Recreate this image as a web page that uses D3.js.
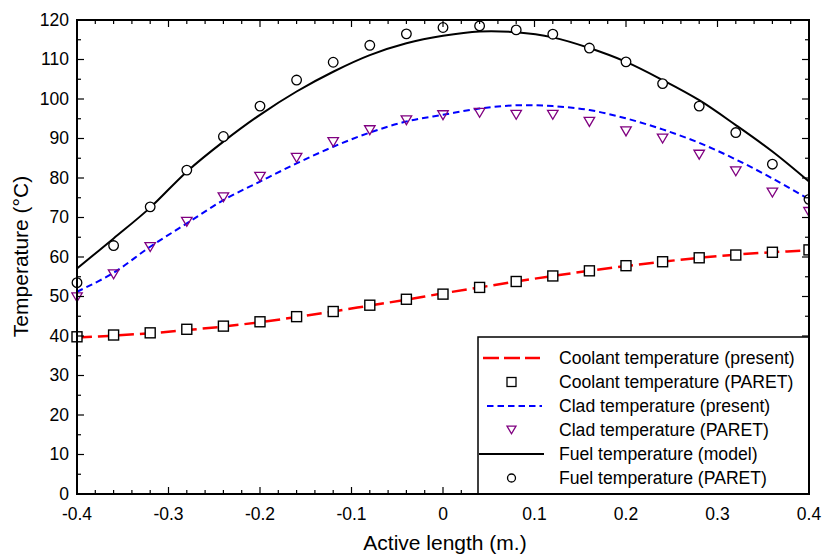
<!DOCTYPE html>
<html><head><meta charset="utf-8">
<script src="https://cdn.jsdelivr.net/npm/d3@7"></script>
<style>body{margin:0;background:#fff}svg{display:block;font-family:"Liberation Sans",Arial,sans-serif}</style>
</head><body><svg id="c" width="822" height="555"></svg>
<script>
const xTicks = [-0.4,-0.3,-0.2,-0.1,0,0.1,0.2,0.3,0.4];
const xTickLabels = ["-0.4","-0.3","-0.2","-0.1","0","0.1","0.2","0.3","0.4"];
const yTicks = [0,10,20,30,40,50,60,70,80,90,100,110,120];

const paretX = [-0.4,-0.36,-0.32,-0.28,-0.24,-0.2,-0.16,-0.12,-0.08,-0.04,0,0.04,0.08,0.12,0.16,0.2,0.24,0.28,0.32,0.36,0.4];
const coolantParet = [39.8,40.25,40.8,41.7,42.5,43.6,44.9,46.2,47.8,49.3,50.6,52.3,53.8,55.2,56.5,57.8,58.8,59.8,60.5,61.2,61.8];
const cladParet = [49.8,55.6,62.5,68.9,75.1,80.3,85.1,89.1,92.1,94.6,95.9,96.5,96.0,96.0,94.2,91.8,90.0,85.9,81.7,76.3,71.4];
const fuelParet = [53.5,62.9,72.7,82.0,90.5,98.2,104.8,109.3,113.6,116.5,118.1,118.5,117.5,116.4,112.9,109.4,103.9,98.2,91.5,83.5,74.6];

const lineX = [-0.4,-0.36,-0.32,-0.28,-0.24,-0.2,-0.16,-0.12,-0.08,-0.04,0,0.04,0.08,0.12,0.16,0.2,0.24,0.28,0.32,0.36,0.4];
const coolantPresent = [39.6,40.1,40.7,41.5,42.4,43.5,44.8,46.2,47.7,49.2,50.8,52.3,53.8,55.2,56.5,57.7,58.8,59.8,60.6,61.2,61.7];
const cladPresent = [51.2,56.0,62.6,68.5,74.4,79.1,83.7,87.9,91.5,94.3,96.0,97.6,98.4,98.2,97.2,95.1,92.3,88.9,84.7,79.9,74.6];
const fuelModel = [57.1,64.7,72.5,81.6,89.2,96.0,101.9,106.9,111.1,114.1,116.0,117.1,116.9,115.6,112.9,109.4,104.8,99.7,93.4,86.7,79.1];

const legendLabels = ["Coolant temperature (present)","Coolant temperature (PARET)","Clad temperature (present)","Clad temperature (PARET)","Fuel temperature (model)","Fuel temperature (PARET)"];

const svg = d3.select("#c");
const L=77,R=809,T=20,B=494;
const x = d3.scaleLinear().domain([-0.4,0.4]).range([L,R]);
const y = d3.scaleLinear().domain([0,120]).range([B,T]);

const g = svg.append("g");
svg.append("defs").append("clipPath").attr("id","pc").append("rect")
  .attr("x",L-6).attr("y",T).attr("width",R-L+6).attr("height",B-T);

// lines
const line = d3.line().curve(d3.curveCatmullRom.alpha(0.5)).x((d,i)=>x(lineX[i])).y(d=>y(d));
const lg = g.append("g").attr("clip-path","url(#pc)");
lg.append("path").attr("d",line(coolantPresent)).attr("fill","none").attr("stroke","#ff0000").attr("stroke-width",2.5).attr("stroke-dasharray","15,6");
lg.append("path").attr("d",line(cladPresent)).attr("fill","none").attr("stroke","#0000ff").attr("stroke-width",2).attr("stroke-dasharray","6.5,4");
lg.append("path").attr("d",line(fuelModel)).attr("fill","none").attr("stroke","#000").attr("stroke-width",2);

// markers
const mg = g.append("g").attr("clip-path","url(#pc)");
const sq = 10;
paretX.forEach((xv,i)=>{
  mg.append("rect").attr("x",x(xv)-sq/2).attr("y",y(coolantParet[i])-sq/2).attr("width",sq).attr("height",sq)
    .attr("fill","#fff").attr("stroke","#000").attr("stroke-width",1.4);
});
const tri = (cx,cy,w)=>{const h=w*0.85;return `M${cx-w/2},${cy-h/2}L${cx+w/2},${cy-h/2}L${cx},${cy+h/2}Z`;};
paretX.forEach((xv,i)=>{
  mg.append("path").attr("d",tri(x(xv),y(cladParet[i]),10.5)).attr("fill","none").attr("stroke","#800080").attr("stroke-width",1.3);
});
paretX.forEach((xv,i)=>{
  mg.append("circle").attr("cx",x(xv)).attr("cy",y(fuelParet[i])).attr("r",4.8).attr("fill","#fff").attr("stroke","#000").attr("stroke-width",1.3);
});

// axes ticks (inward)
const ax = g.append("g").attr("stroke","#000");
const xMinor = d3.range(-0.4,0.4001,0.02);
xMinor.forEach(v=>{
  const major = Math.abs(Math.round(v*10)-v*10)<1e-6;
  const len = major?7:4;
  ax.append("line").attr("x1",x(v)).attr("x2",x(v)).attr("y1",B).attr("y2",B-len).attr("stroke-width",1.2);
  ax.append("line").attr("x1",x(v)).attr("x2",x(v)).attr("y1",T).attr("y2",T+len).attr("stroke-width",1.2);
});
d3.range(0,120.001,5).forEach(v=>{
  const major = v%10===0;
  const len = major?7:4;
  ax.append("line").attr("y1",y(v)).attr("y2",y(v)).attr("x1",L).attr("x2",L+len).attr("stroke-width",1.2);
  ax.append("line").attr("y1",y(v)).attr("y2",y(v)).attr("x1",R).attr("x2",R-len).attr("stroke-width",1.2);
});

// legend box
const lx0 = 478, ly0 = 337;
g.append("rect").attr("x",lx0).attr("y",ly0).attr("width",R-lx0).attr("height",B-ly0).attr("fill","#fff").attr("stroke","#000").attr("stroke-width",1.5);

// frame
g.append("rect").attr("x",L).attr("y",T).attr("width",R-L).attr("height",B-T).attr("fill","none").attr("stroke","#000").attr("stroke-width",2);

// tick labels
xTicks.forEach((v,i)=>{
  g.append("text").attr("x",x(v)).attr("y",520).attr("text-anchor","middle").attr("font-size",17.5).attr("fill","#000").text(xTickLabels[i]);
});
yTicks.forEach(v=>{
  g.append("text").attr("x",69).attr("y",y(v)+5.5).attr("text-anchor","end").attr("font-size",17.5).attr("fill","#000").text(String(v));
});

// axis titles
g.append("text").attr("x",445).attr("y",550).attr("text-anchor","middle").attr("font-size",21).text("Active length (m.)");
g.append("text").attr("transform","translate(28,256.5) rotate(-90)").attr("text-anchor","middle").attr("font-size",21).text("Temperature (°C)");

// legend entries
const rowY = i=>358+i*24;
const lgd = g.append("g");
const sx0=483, sx1=540, scx=(sx0+sx1)/2;
lgd.append("line").attr("x1",sx0).attr("x2",sx1).attr("y1",rowY(0)).attr("y2",rowY(0)).attr("stroke","#ff0000").attr("stroke-width",2.5).attr("stroke-dasharray","16,5");
lgd.append("rect").attr("x",scx-4.5).attr("y",rowY(1)-4.5).attr("width",9).attr("height",9).attr("fill","#fff").attr("stroke","#000").attr("stroke-width",1.3);
lgd.append("line").attr("x1",sx0+4).attr("x2",sx1+2).attr("y1",rowY(2)).attr("y2",rowY(2)).attr("stroke","#0000ff").attr("stroke-width",2).attr("stroke-dasharray","6.5,4");
lgd.append("path").attr("d",tri(scx,rowY(3),9)).attr("fill","none").attr("stroke","#800080").attr("stroke-width",1.3);
lgd.append("line").attr("x1",sx0-4).attr("x2",sx1+4).attr("y1",rowY(4)).attr("y2",rowY(4)).attr("stroke","#000").attr("stroke-width",2);
lgd.append("circle").attr("cx",scx).attr("cy",rowY(5)).attr("r",4).attr("fill","#fff").attr("stroke","#000").attr("stroke-width",1.3);
legendLabels.forEach((t,i)=>{
  lgd.append("text").attr("x",559).attr("y",rowY(i)+6).attr("font-size",17.6).attr("fill","#000").text(t);
});
</script></body></html>
